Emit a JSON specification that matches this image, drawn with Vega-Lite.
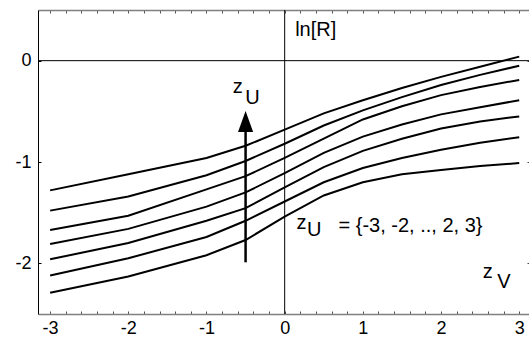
{
  "$schema": "https://vega.github.io/schema/vega-lite/v6.json",
  "width": 491,
  "height": 304,
  "autosize": {"type": "none"},
  "padding": {"left": 38, "top": 10, "right": 0, "bottom": 25},
  "background": "white",
  "config": {
    "view": {"stroke": null},
    "font": "Liberation Sans",
    "axis": {"grid": false, "title": null, "labelOverlap": false, "labelFlush": false}
  },
  "datasets": {
    "curves": [
      {"zU": 3, "zV": -3, "lnR": -1.28}, {"zU": 3, "zV": -2, "lnR": -1.12}, {"zU": 3, "zV": -1, "lnR": -0.96}, {"zU": 3, "zV": -0.5, "lnR": -0.84}, {"zU": 3, "zV": 0, "lnR": -0.68}, {"zU": 3, "zV": 0.5, "lnR": -0.52}, {"zU": 3, "zV": 1, "lnR": -0.39}, {"zU": 3, "zV": 1.5, "lnR": -0.27}, {"zU": 3, "zV": 2, "lnR": -0.16}, {"zU": 3, "zV": 2.5, "lnR": -0.06}, {"zU": 3, "zV": 3, "lnR": 0.04},
      {"zU": 2, "zV": -3, "lnR": -1.48}, {"zU": 2, "zV": -2, "lnR": -1.34}, {"zU": 2, "zV": -1, "lnR": -1.13}, {"zU": 2, "zV": -0.5, "lnR": -0.99}, {"zU": 2, "zV": 0, "lnR": -0.82}, {"zU": 2, "zV": 0.5, "lnR": -0.64}, {"zU": 2, "zV": 1, "lnR": -0.49}, {"zU": 2, "zV": 1.5, "lnR": -0.36}, {"zU": 2, "zV": 2, "lnR": -0.24}, {"zU": 2, "zV": 2.5, "lnR": -0.14}, {"zU": 2, "zV": 3, "lnR": -0.05},
      {"zU": 1, "zV": -3, "lnR": -1.67}, {"zU": 1, "zV": -2, "lnR": -1.53}, {"zU": 1, "zV": -1, "lnR": -1.27}, {"zU": 1, "zV": -0.5, "lnR": -1.14}, {"zU": 1, "zV": 0, "lnR": -0.96}, {"zU": 1, "zV": 0.5, "lnR": -0.77}, {"zU": 1, "zV": 1, "lnR": -0.58}, {"zU": 1, "zV": 1.5, "lnR": -0.45}, {"zU": 1, "zV": 2, "lnR": -0.34}, {"zU": 1, "zV": 2.5, "lnR": -0.26}, {"zU": 1, "zV": 3, "lnR": -0.19},
      {"zU": 0, "zV": -3, "lnR": -1.81}, {"zU": 0, "zV": -2, "lnR": -1.66}, {"zU": 0, "zV": -1, "lnR": -1.44}, {"zU": 0, "zV": -0.5, "lnR": -1.3}, {"zU": 0, "zV": 0, "lnR": -1.11}, {"zU": 0, "zV": 0.5, "lnR": -0.91}, {"zU": 0, "zV": 1, "lnR": -0.75}, {"zU": 0, "zV": 1.5, "lnR": -0.63}, {"zU": 0, "zV": 2, "lnR": -0.53}, {"zU": 0, "zV": 2.5, "lnR": -0.46}, {"zU": 0, "zV": 3, "lnR": -0.39},
      {"zU": -1, "zV": -3, "lnR": -1.96}, {"zU": -1, "zV": -2, "lnR": -1.8}, {"zU": -1, "zV": -1, "lnR": -1.58}, {"zU": -1, "zV": -0.5, "lnR": -1.455}, {"zU": -1, "zV": 0, "lnR": -1.25}, {"zU": -1, "zV": 0.5, "lnR": -1.05}, {"zU": -1, "zV": 1, "lnR": -0.89}, {"zU": -1, "zV": 1.5, "lnR": -0.77}, {"zU": -1, "zV": 2, "lnR": -0.67}, {"zU": -1, "zV": 2.5, "lnR": -0.6}, {"zU": -1, "zV": 3, "lnR": -0.55},
      {"zU": -2, "zV": -3, "lnR": -2.12}, {"zU": -2, "zV": -2, "lnR": -1.95}, {"zU": -2, "zV": -1, "lnR": -1.74}, {"zU": -2, "zV": -0.5, "lnR": -1.58}, {"zU": -2, "zV": 0, "lnR": -1.39}, {"zU": -2, "zV": 0.5, "lnR": -1.2}, {"zU": -2, "zV": 1, "lnR": -1.06}, {"zU": -2, "zV": 1.5, "lnR": -0.96}, {"zU": -2, "zV": 2, "lnR": -0.88}, {"zU": -2, "zV": 2.5, "lnR": -0.81}, {"zU": -2, "zV": 3, "lnR": -0.755},
      {"zU": -3, "zV": -3, "lnR": -2.29}, {"zU": -3, "zV": -2, "lnR": -2.13}, {"zU": -3, "zV": -1, "lnR": -1.92}, {"zU": -3, "zV": -0.5, "lnR": -1.77}, {"zU": -3, "zV": 0, "lnR": -1.54}, {"zU": -3, "zV": 0.5, "lnR": -1.33}, {"zU": -3, "zV": 1, "lnR": -1.2}, {"zU": -3, "zV": 1.5, "lnR": -1.12}, {"zU": -3, "zV": 2, "lnR": -1.08}, {"zU": -3, "zV": 2.5, "lnR": -1.04}, {"zU": -3, "zV": 3, "lnR": -1.01}
    ],
    "origin": [{"x0": 0, "y0": 0}],
    "arrow": [{"x": -0.5, "y": -1.99, "y2": -0.7, "tipY": -0.6}],
    "bigText": [
      {"x": 0.134, "y": 0.241, "text": "ln[R]"},
      {"x": -0.505, "y": -0.423, "text": "U"},
      {"x": 0.284, "y": -1.733, "text": "U"},
      {"x": 0.688, "y": -1.69, "text": "= {-3, -2, .., 2, 3}"},
      {"x": 2.718, "y": -2.246, "text": "V"}
    ],
    "smallText": [
      {"x": -0.665, "y": -0.322, "text": "z"},
      {"x": 0.15, "y": -1.657, "text": "z"},
      {"x": 2.535, "y": -2.147, "text": "z"}
    ]
  },
  "layer": [
    {
      "description": "horizontal zero line, with the right-hand tick axis",
      "data": {"name": "origin"},
      "mark": {"type": "rule", "color": "black", "strokeWidth": 1},
      "encoding": {
        "y": {
          "field": "y0", "type": "quantitative",
          "scale": {"domain": [-2.5, 0.5], "nice": false, "zero": false},
          "axis": {"orient": "right", "values": [-2, -1, 0], "domain": false, "labels": false, "tickSize": -2, "tickColor": "#444444"}
        }
      }
    },
    {
      "description": "vertical zero line, with the grey top tick axis",
      "data": {"name": "origin"},
      "mark": {"type": "rule", "color": "black", "strokeWidth": 1},
      "encoding": {
        "x": {
          "field": "x0", "type": "quantitative",
          "scale": {"domain": [-3.155, 3.125], "nice": false, "zero": false},
          "axis": {
            "orient": "top",
            "values": [-3, -2.8, -2.6, -2.4, -2.2, -2, -1.8, -1.6, -1.4, -1.2, -1, -0.8, -0.6, -0.4, -0.2, 0, 0.2, 0.4, 0.6, 0.8, 1, 1.2, 1.4, 1.6, 1.8, 2, 2.2, 2.4, 2.6, 2.8, 3],
            "labels": false, "domainColor": "#808080", "domainWidth": 1.5, "tickSize": -3, "tickColor": "#555555"
          }
        }
      }
    },
    {
      "data": {"name": "curves"},
      "mark": {"type": "line", "color": "black", "strokeWidth": 2},
      "encoding": {
        "x": {
          "field": "zV", "type": "quantitative",
          "axis": {
            "orient": "bottom",
            "values": [-3, -2.8, -2.6, -2.4, -2.2, -2, -1.8, -1.6, -1.4, -1.2, -1, -0.8, -0.6, -0.4, -0.2, 0, 0.2, 0.4, 0.6, 0.8, 1, 1.2, 1.4, 1.6, 1.8, 2, 2.2, 2.4, 2.6, 2.8, 3],
            "labelExpr": "abs(datum.value - round(datum.value)) < 0.001 ? '' + round(datum.value) : ''",
            "domainColor": "#808080", "domainWidth": 1.5, "tickSize": -3, "tickColor": "#555555",
            "labelFontSize": 18, "labelColor": "black", "labelPadding": 8
          }
        },
        "y": {
          "field": "lnR", "type": "quantitative",
          "axis": {
            "orient": "left", "values": [-2, -1, 0],
            "labelExpr": "'' + round(datum.value)",
            "domain": true, "domainColor": "black", "domainWidth": 1, "tickSize": -3, "tickColor": "black",
            "labelFontSize": 18, "labelColor": "black", "labelPadding": 10
          }
        },
        "detail": {"field": "zU", "type": "nominal"}
      }
    },
    {
      "data": {"name": "arrow"},
      "mark": {"type": "rule", "color": "black", "strokeWidth": 2.5},
      "encoding": {
        "x": {"field": "x", "type": "quantitative", "axis": null},
        "y": {"field": "y", "type": "quantitative", "axis": null},
        "y2": {"field": "y2"}
      }
    },
    {
      "data": {"name": "arrow"},
      "mark": {"type": "point", "shape": "M0,-1L0.72,1L-0.72,1Z", "size": 441, "filled": true, "color": "black", "opacity": 1, "strokeWidth": 0},
      "encoding": {
        "x": {"field": "x", "type": "quantitative", "axis": null},
        "y": {"field": "tipY", "type": "quantitative", "axis": null}
      }
    },
    {
      "data": {"name": "bigText"},
      "mark": {"type": "text", "align": "left", "baseline": "alphabetic", "fontSize": 20, "color": "black"},
      "encoding": {
        "x": {"field": "x", "type": "quantitative", "axis": null},
        "y": {"field": "y", "type": "quantitative", "axis": null},
        "text": {"field": "text"}
      }
    },
    {
      "data": {"name": "smallText"},
      "mark": {"type": "text", "align": "left", "baseline": "alphabetic", "fontSize": 20, "color": "black"},
      "encoding": {
        "x": {"field": "x", "type": "quantitative", "axis": null},
        "y": {"field": "y", "type": "quantitative", "axis": null},
        "text": {"field": "text"}
      }
    }
  ],
  "resolve": {"axis": {"x": "independent", "y": "independent"}}
}
